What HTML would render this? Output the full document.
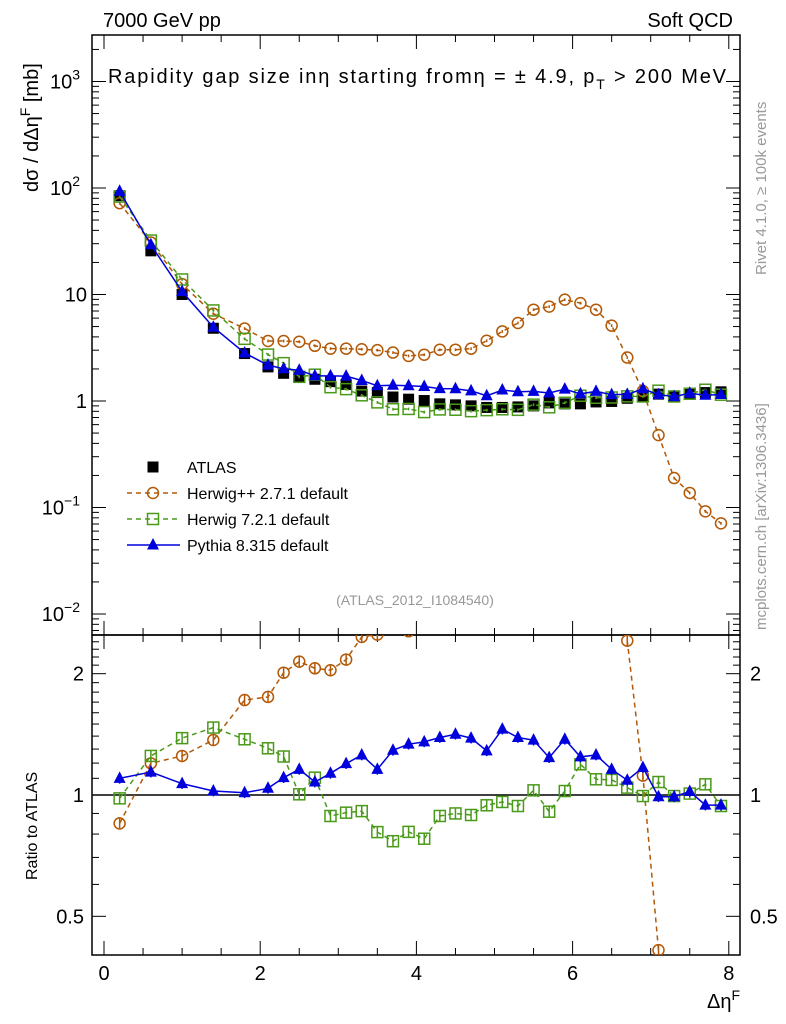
<!DOCTYPE html>
<html><head><meta charset="utf-8"><style>
html,body{margin:0;padding:0;background:#fff;overflow:hidden;width:786px;height:1024px}
svg{display:block;font-family:"Liberation Sans",sans-serif}
</style></head><body>
<svg id="chart" width="786" height="1024" viewBox="0 0 786 1024" xmlns="http://www.w3.org/2000/svg">
<rect width="786" height="1024" fill="#fff"/>
<text x="103" y="27" font-size="20">7000 GeV pp</text>
<text x="733" y="27" font-size="20" text-anchor="end">Soft QCD</text>
<text x="108" y="83" font-size="20" textLength="618" lengthAdjust="spacing">Rapidity gap size in<tspan>η</tspan> starting from<tspan>η</tspan> = ± 4.9, p<tspan font-size="14" dy="6">T</tspan><tspan dy="-6"> &gt; 200 MeV</tspan></text>
<text transform="translate(38,192) rotate(-90)" font-size="20">dσ / dΔη<tspan font-size="14" dy="-8">F</tspan><tspan dy="8"> [mb]</tspan></text>
<text transform="translate(37,880) rotate(-90)" font-size="16">Ratio to ATLAS</text>
<text x="740" y="1008" font-size="20" text-anchor="end">Δη<tspan font-size="14" dy="-8">F</tspan></text>
<text transform="translate(766,275) rotate(-90)" font-size="15" fill="#999">Rivet 4.1.0, ≥ 100k events</text>
<text transform="translate(766,630) rotate(-90)" font-size="15" fill="#999">mcplots.cern.ch [arXiv:1306.3436]</text>
<text x="415" y="605" font-size="14" fill="#999" text-anchor="middle">(ATLAS_2012_I1084540)</text>
<g id="plot"></g>
</svg>
<script>
const xVals=[0.2,0.6,1.0,1.4,1.8,2.1,2.3,2.5,2.7,2.9,3.1,3.3,3.5,3.7,3.9,4.1,4.3,4.5,4.7,4.9,5.1,5.3,5.5,5.7,5.9,6.1,6.3,6.5,6.7,6.9,7.1,7.3,7.5,7.7,7.9];
const atlas=[84.7,25.7,10.0,4.82,2.79,2.09,1.82,1.68,1.6,1.52,1.43,1.24,1.2,1.09,1.04,1.01,0.94,0.92,0.90,0.87,0.87,0.88,0.90,0.96,0.94,0.94,0.98,0.99,1.06,1.11,1.16,1.11,1.16,1.2,1.22];
const herwigpp=[72,30.8,12.5,6.6,4.8,3.66,3.66,3.6,3.3,3.1,3.1,3.06,3.0,2.85,2.65,2.72,3.03,3.03,3.1,3.68,4.5,5.4,7.2,7.7,8.95,8.3,7.2,5.1,2.56,1.24,0.478,0.189,0.137,0.092,0.071];
const herwig7Ratio=[0.981,1.25,1.384,1.47,1.375,1.306,1.246,1.004,1.104,0.887,0.904,0.912,0.809,0.768,0.81,0.779,0.887,0.9,0.892,0.943,0.961,0.939,1.027,0.909,1.023,1.192,1.094,1.09,1.043,0.994,1.077,0.994,1.008,1.063,0.939];
const pythiaRatio=[1.10,1.14,1.067,1.023,1.013,1.039,1.104,1.158,1.077,1.132,1.196,1.257,1.158,1.291,1.337,1.355,1.389,1.415,1.384,1.287,1.457,1.389,1.368,1.238,1.375,1.243,1.257,1.158,1.088,1.17,0.99,0.99,1.02,0.944,0.944];
const xTicks=[0,2,4,6,8];
const yTicksMain=[{v:1000,t:"10",e:"3"},{v:100,t:"10",e:"2"},{v:10,t:"10",e:""},{v:1,t:"1",e:""},{v:0.1,t:"10",e:"−1"},{v:0.01,t:"10",e:"−2"}];
const ratioTicks=[{v:2,t:"2"},{v:1,t:"1"},{v:0.5,t:"0.5"}];

const L=92,R=740,T=35,MB=635,RB=955;
const X=v=>104+v*78.1;
const Y=v=>401-Math.log10(v)*106.5;
const YR=v=>795-Math.log10(v)*403;
const NS="http://www.w3.org/2000/svg";
const g=document.getElementById('plot');
function mk(tag,attrs,parent){const e=document.createElementNS(NS,tag);for(const k in attrs)e.setAttribute(k,attrs[k]);(parent||g).appendChild(e);return e;}

const herwig7=herwig7Ratio.map((r,i)=>r*atlas[i]);
const pythia=pythiaRatio.map((r,i)=>r*atlas[i]);
const herwigppRatio=herwigpp.map((v,i)=>v/atlas[i]);

const fm=mk('rect',{x:L,y:T,width:R-L,height:MB-T,fill:'none',stroke:'#000','stroke-width':1.5});


const fr=mk('rect',{x:L,y:MB,width:R-L,height:RB-MB,fill:'none',stroke:'#000','stroke-width':1.5});



for(let v=0;v<=8.001;v+=0.5){
  const major=Math.abs(v-Math.round(v/2)*2)<1e-6;const len=major?14:7;const x=X(v);
  for(const [y0,dir] of [[T,1],[MB,-1],[MB,1],[RB,-1]]){
    const t=mk('line',{x1:x,x2:x,y1:y0,y2:y0+dir*len,stroke:'#000','stroke-width':1});
    
    
  }
}
xTicks.forEach(v=>{const t=mk('text',{x:X(v),y:980,'font-size':20,'text-anchor':'middle'});t.textContent=v;
  
  });

for(let d=-3;d<=3;d++){for(let m=1;m<10;m++){const v=m*Math.pow(10,d);const y=Y(v);if(y<T||y>MB)continue;const len=m===1?14:7;
  for(const [x0,dir] of [[L,1],[R,-1]]){const t=mk('line',{x1:x0,x2:x0+dir*len,y1:y,y2:y,stroke:'#000','stroke-width':1});
    
    }}}
yTicksMain.forEach(o=>{const t=mk('text',{x:o.e?80:87,y:Y(o.v)+7,'font-size':20,'text-anchor':'end'});t.textContent=o.t;
  if(o.e){const s=mk('tspan',{'font-size':14,dy:-9},t);s.textContent=o.e;}
  
  });

for(let v=0.4;v<=2.5;v+=0.1){const y=YR(v);if(y<MB||y>RB)continue;const major=[0.5,1,2].some(q=>Math.abs(q-v)<1e-6);const len=major?14:7;
  for(const [x0,dir] of [[L,1],[R,-1]]){const t=mk('line',{x1:x0,x2:x0+dir*len,y1:y,y2:y,stroke:'#000','stroke-width':1});
    
    }}
ratioTicks.forEach(o=>{[[84,'end'],[750,'start']].forEach(([x,a])=>{const t=mk('text',{x:x,y:YR(o.v)+7,'font-size':20,'text-anchor':a});t.textContent=o.t;
  
  });});
const ul=mk('line',{x1:L,x2:R,y1:YR(1),y2:YR(1),stroke:'#000','stroke-width':1.5});



const defs=mk('defs',{});
const c1=mk('clipPath',{id:'cm'},defs);mk('rect',{x:L,y:T,width:R-L,height:MB-T},c1);
const c2=mk('clipPath',{id:'cr'},defs);mk('rect',{x:L,y:MB,width:R-L,height:RB-MB},c2);
const gm=mk('g',{'clip-path':'url(#cm)'});
const gr=mk('g',{'clip-path':'url(#cr)'});

function marker(par,type,x,y,col,name){
  let e;
  if(type==='circle')e=mk('circle',{cx:x,cy:y,r:5.5,fill:'none',stroke:col,'stroke-width':1.5},par);
  else if(type==='osq')e=mk('rect',{x:x-5.5,y:y-5.5,width:11,height:11,fill:'none',stroke:col,'stroke-width':1.5},par);
  else if(type==='sq')e=mk('rect',{x:x-5.5,y:y-5.5,width:11,height:11,fill:col},par);
  else e=mk('polygon',{points:`${x},${y-7} ${x+6},${y+4.5} ${x-6},${y+4.5}`,fill:col},par);
  
  
}
function series(par,vals,yf,col,type,dash,name,rel){
  const pts=vals.map((v,i)=>[X(xVals[i]),yf(v)]);
  if(dash!==null){const p=mk('polyline',{points:pts.map(p=>p.join(',')).join(' '),fill:'none',stroke:col,'stroke-width':1.5,'stroke-dasharray':dash||'none'},par);
    
    }
  vals.forEach((v,i)=>{const x=pts[i][0];const y1=yf(v*(1+rel)),y2=yf(v*(1-rel));
    const eb=mk('line',{x1:x,x2:x,y1:y1,y2:y2,stroke:col,'stroke-width':1.5},par);
    
    
    marker(par,type,x,pts[i][1],col,name+'-point');});
}
const BR='#b35806',GR='#4a9a1a',BL='#0000dd';
series(gm,atlas,Y,'#000','sq',null,'atlas',0.02);
series(gm,herwigpp,Y,BR,'circle','5,4','herwigpp',0.03);
series(gm,herwig7,Y,GR,'osq','5,4','herwig7',0.03);
series(gm,pythia,Y,BL,'tri','','pythia',0.02);
series(gr,herwigppRatio,YR,BR,'circle','5,4','herwigpp-ratio',0.03);
series(gr,herwig7Ratio,YR,GR,'osq','5,4','herwig7-ratio',0.03);
series(gr,pythiaRatio,YR,BL,'tri','','pythia-ratio',0.03);

const leg=[['ATLAS','#000','sq',null],['Herwig++ 2.7.1 default',BR,'circle','5,4'],['Herwig 7.2.1 default',GR,'osq','5,4'],['Pythia 8.315 default',BL,'tri','']];
leg.forEach((l,i)=>{const y=467+i*26;
  if(l[3]!==null){const ln=mk('line',{x1:127,x2:180,y1:y,y2:y,stroke:l[1],'stroke-width':1.5,'stroke-dasharray':l[3]||'none'});
    
    }
  marker(g,l[2],153,y,l[1],'legend-marker');
  const t=mk('text',{x:187,y:y+6,'font-size':16});t.textContent=l[0];
  
  });
</script>
</body></html>
